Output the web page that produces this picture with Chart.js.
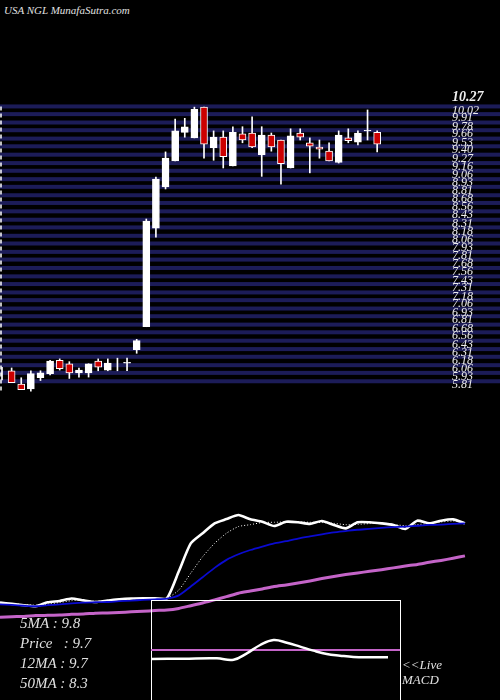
<!DOCTYPE html>
<html><head><meta charset="utf-8">
<script src="https://cdn.jsdelivr.net/npm/chart.js@4/dist/chart.umd.min.js"></script>
<style>
body{margin:0;background:#000;width:500px;height:700px;overflow:hidden;position:relative;font-family:"Liberation Serif",serif;font-style:italic;color:#ddd}
canvas{position:absolute}
.t{position:absolute;white-space:pre;font-size:15px;color:#e0e0e0}
</style></head><body>
<div class="t" style="left:4px;top:4px;font-size:11px">USA NGL MunafaSutra.com</div>
<canvas id="c1" style="left:0;top:0" width="500" height="490"></canvas>
<canvas id="c2" style="left:0;top:490px" width="500" height="210"></canvas>
<div style="position:absolute;left:151px;top:600px;width:248px;height:99px;border:1px solid #fff;border-bottom:none"></div>
<canvas id="c3" style="left:151px;top:600px" width="249" height="100"></canvas>
<div class="t" style="left:20px;top:615px">5MA : 9.8</div>
<div class="t" style="left:20px;top:635px">Price   : 9.7</div>
<div class="t" style="left:20px;top:655px">12MA : 9.7</div>
<div class="t" style="left:20px;top:675px">50MA : 8.3</div>
<div class="t" style="left:402px;top:657px;font-size:13px">&lt;&lt;Live</div>
<div class="t" style="left:402px;top:672px;font-size:13px">MACD</div>
<script>
const opens  = [6.41,6.47,6.28,6.21,6.37,6.43,6.62,6.57,6.44,6.44,6.61,6.48,6.58,6.58,6.77,7.10,8.51,9.10,9.47,9.88,9.80,10.24,9.66,9.81,9.40,9.86,9.87,9.56,9.84,9.77,9.37,9.87,9.73,9.67,9.61,9.45,9.80,9.74,9.90,9.88];
const highs  = [6.52,6.51,6.37,6.47,6.47,6.62,6.64,6.60,6.51,6.57,6.64,6.64,6.65,6.65,6.92,8.64,9.24,9.60,10.07,10.08,10.24,10.24,9.90,9.90,9.96,9.96,10.10,9.96,9.87,9.77,9.93,9.93,9.80,9.77,9.73,9.90,9.93,9.90,10.20,9.90];
const lows   = [6.34,6.30,6.20,6.18,6.33,6.41,6.48,6.36,6.38,6.38,6.47,6.47,6.47,6.47,6.72,7.10,8.38,9.07,9.47,9.81,9.80,9.51,9.48,9.37,9.40,9.73,9.66,9.25,9.61,9.14,9.37,9.77,9.30,9.51,9.47,9.44,9.73,9.70,9.77,9.60];
const closes = [6.41,6.30,6.20,6.43,6.44,6.61,6.50,6.44,6.48,6.57,6.52,6.58,6.58,6.59,6.90,8.61,9.21,9.51,9.90,9.96,10.21,9.71,9.81,9.53,9.88,9.77,9.67,9.84,9.67,9.43,9.83,9.81,9.68,9.64,9.47,9.84,9.76,9.87,9.91,9.71];
const gridValues = [10.25,10.14,10.02,9.91,9.79,9.68,9.56,9.44,9.33,9.21,9.10,8.98,8.87,8.75,8.63,8.52,8.40,8.29,8.17,8.06,7.94,7.82,7.71,7.59,7.48,7.36,7.25,7.13,7.02,6.90,6.78,6.67,6.55,6.44,6.32];
const tickLabels = ["10.02","9.91","9.78","9.66","9.53","9.40","9.27","9.16","9.06","8.93","8.81","8.68","8.56","8.43","8.31","8.18","8.06","7.93","7.81","7.68","7.56","7.43","7.31","7.18","7.06","6.93","6.81","6.68","6.56","6.43","6.31","6.18","6.06","5.93","5.81"];
const topLabel = "10.27";
const ma5  = [6.78,6.73,6.68,6.64,6.79,6.84,6.93,6.86,6.80,6.85,6.90,6.93,6.94,6.94,6.94,7.95,9.00,9.38,9.75,9.91,10.06,9.90,9.81,9.65,9.81,9.79,9.73,9.84,9.69,9.56,9.79,9.79,9.75,9.69,9.54,9.85,9.75,9.85,9.90,9.75];
const ma12 = [6.76,6.74,6.70,6.68,6.72,6.78,6.85,6.86,6.83,6.85,6.88,6.91,6.93,6.94,6.94,7.25,7.88,8.50,9.00,9.38,9.63,9.70,9.78,9.79,9.80,9.80,9.79,9.78,9.75,9.70,9.71,9.74,9.75,9.71,9.66,9.70,9.75,9.80,9.84,9.79];
const ma20 = [6.71,6.69,6.66,6.64,6.68,6.71,6.75,6.78,6.79,6.80,6.83,6.85,6.88,6.90,6.93,7.05,7.38,7.73,8.08,8.38,8.59,8.75,8.88,9.00,9.08,9.18,9.26,9.34,9.41,9.46,9.51,9.54,9.58,9.61,9.63,9.66,9.69,9.70,9.73,9.75];
const ma50 = [6.23,6.25,6.26,6.29,6.30,6.31,6.34,6.35,6.38,6.39,6.41,6.43,6.45,6.48,6.50,6.56,6.66,6.76,6.88,7.00,7.13,7.21,7.29,7.38,7.44,7.51,7.59,7.68,7.76,7.83,7.89,7.95,8.01,8.08,8.15,8.21,8.29,8.36,8.44,8.53];
const macdDays = [0,2.45,4.95,6.2,7.2,8.2,9.2,10.2,11.2,12.2,13.2,14.2,15.2,16.45,17.8];
const macdVals = [-0.081,-0.078,-0.075,-0.087,-0.03,0.045,0.09,0.066,0.03,-0.006,-0.036,-0.051,-0.063,-0.066,-0.066];

Chart.defaults.animation = false;
Chart.defaults.responsive = false;
const hidden = {display:false};
const idx = opens.map((_, i) => i);

const gridPlugin = {
  id:'grid',
  beforeDatasetsDraw(chart){
    const ctx = chart.ctx, y = chart.scales.y;
    ctx.save();
    ctx.fillStyle = '#1c1c58';
    gridValues.forEach(v => { const p = y.getPixelForValue(v); ctx.fillRect(0, p-2, 500, 4); });
    ctx.strokeStyle = '#fff'; ctx.setLineDash([4,3]); ctx.lineWidth = 1.5;
    ctx.beginPath(); ctx.moveTo(1, y.getPixelForValue(gridValues[0])); ctx.lineTo(1, y.getPixelForValue(6.18)); ctx.stroke();
    ctx.restore();
  },
  afterDatasetsDraw(chart){
    const ctx = chart.ctx, y = chart.scales.y;
    ctx.save();
    ctx.fillStyle = '#eee'; ctx.textBaseline = 'middle';
    ctx.font = 'italic bold 14px "Liberation Serif"';
    ctx.fillText(topLabel, 452, y.getPixelForValue(gridValues[0]) - 9);
    ctx.font = 'italic 12px "Liberation Serif"';
    gridValues.forEach((v, i) => ctx.fillText(tickLabels[i], 452, y.getPixelForValue(v) + 4));
    ctx.restore();
  }
};

new Chart(document.getElementById('c1'), {
  type:'bar',
  data:{datasets:[
    {data: idx.map(i => ({x:i, y:[opens[i], closes[i]]})), backgroundColor: idx.map(i => closes[i] < opens[i] ? '#cc0000' : '#ffffff'), borderColor:'#ffffff', borderWidth:1, borderSkipped:false, barThickness:7, grouped:false, order:1},
    {data: idx.map(i => ({x:i, y:[lows[i], highs[i]]})), backgroundColor:'#ffffff', borderWidth:0, barThickness:1, grouped:false, order:2}
  ]},
  options:{layout:{padding:0}, plugins:{legend:hidden, tooltip:{enabled:false}},
    scales:{x:{type:'linear', offset:false, min:-0.208, max:51.77, display:false}, y:{min:4.765, max:11.772, display:false}}},
  plugins:[gridPlugin]
});

const lineDs = (d, c, w, dash) => ({data: idx.map(i => ({x:i, y:d[i]})), borderColor:c, borderWidth:w, borderDash:dash||[], pointRadius:0, tension:0.2, fill:false});
new Chart(document.getElementById('c2'), {
  type:'line',
  data:{datasets:[lineDs(ma50,'#c464c8',3), lineDs(ma20,'#0a0ad0',1.8), lineDs(ma12,'#ffffff',1,[1,2]), lineDs(ma5,'#ffffff',2.6)]},
  options:{layout:{padding:0}, plugins:{legend:hidden, tooltip:{enabled:false}},
    scales:{x:{type:'linear', min:0, max:41.94, display:false}, y:{min:3.125, max:11, display:false}}}
});

new Chart(document.getElementById('c3'), {
  type:'line',
  data:{datasets:[
    {data: macdDays.map((d,i) => ({x:d, y:macdVals[i]})), borderColor:'#ffffff', borderWidth:2.5, pointRadius:0, tension:0.4},
    {data:[{x:0,y:0},{x:18.7,y:0}], borderColor:'#c464c8', borderWidth:2, pointRadius:0}
  ]},
  options:{layout:{padding:0}, plugins:{legend:hidden, tooltip:{enabled:false}},
    scales:{x:{type:'linear', min:0, max:18.7, display:false}, y:{min:-0.45, max:0.45, display:false}}}
});
</script></body></html>
